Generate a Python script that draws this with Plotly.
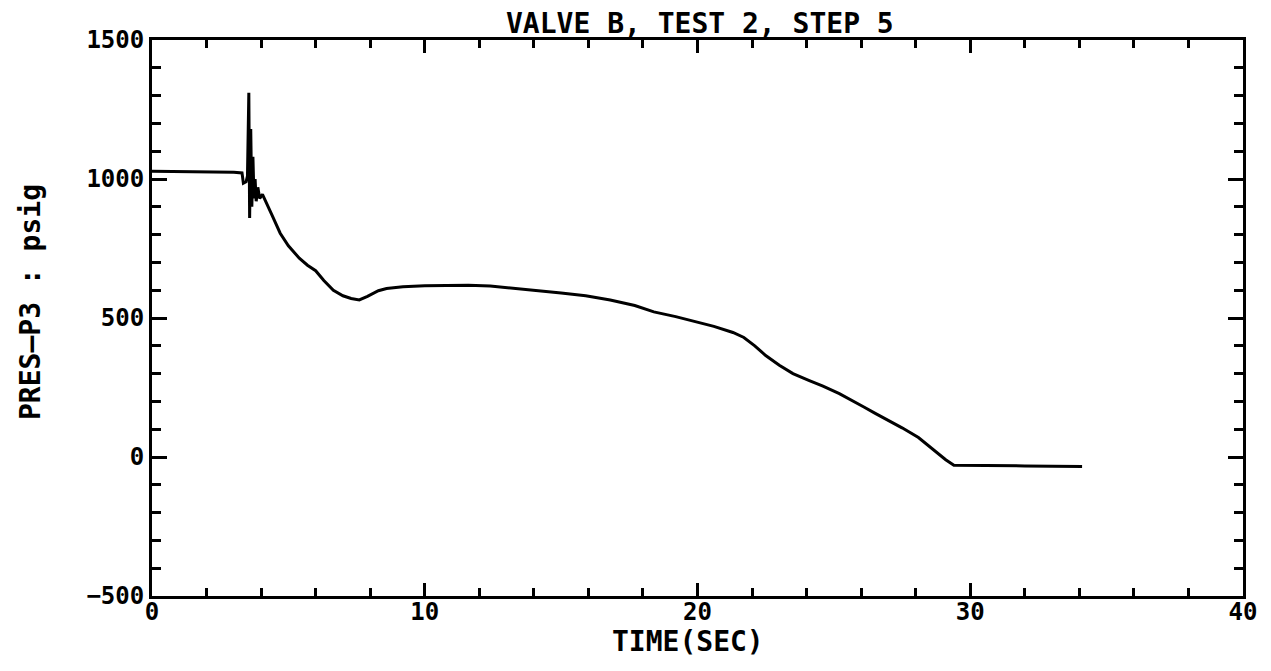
import plotly.graph_objects as go

# time (sec) and pressure P3 (psig)
time_sec = [0, 1, 2, 3, 3.3, 3.35, 3.45, 3.5, 3.55, 3.58, 3.62, 3.66, 3.7, 3.74, 3.78, 3.82,
            3.88, 3.95, 4.05, 4.2, 4.4, 4.7, 5.0, 5.4, 5.7, 6.0, 6.3, 6.65, 7.0, 7.3, 7.6, 7.9,
            8.3, 8.6, 9.2, 10.0, 10.8, 11.6, 12.4, 13.2, 14.1, 15.0, 15.9, 16.8, 17.7, 18.4,
            19.2, 19.9, 20.6, 21.3, 21.7, 22.1, 22.5, 23.0, 23.5, 24.1, 24.6, 25.2, 25.7, 26.1, 26.5,
            27.0, 27.5, 28.1, 28.7, 29.1, 29.4, 30.0, 31.0, 32.0, 33.0, 34.1]
pres_p3 = [1028, 1027, 1025, 1024, 1022, 985, 990, 1010, 1310, 860, 1180, 900, 1080, 930, 1000, 920,
           970, 930, 945, 915, 870, 805, 760, 715, 690, 670, 635, 600, 580, 570, 565, 578,
           598, 606, 612, 616, 618, 618, 615, 608, 598, 590, 580, 565, 545, 522,
           505, 488, 470, 448, 430, 400, 365, 330, 300, 275, 255, 228, 203, 180, 158,
           132, 105, 70, 22, -10, -30, -30, -31, -32, -33, -34]

x_ticks = [0, 10, 20, 30, 40]
y_ticks = [-500, 0, 500, 1000, 1500]

font = "DejaVu Sans Mono"
# the page adds an 8px body margin, so margins are shifted by that amount
L, R, T, B = 144, 36, 32, 83
PW, PH = 1271 - L - R, 671 - T - B


def px(x):
    return (x - 8 - L) / PW


def py(y):
    return 1 - (y - 8 - T) / PH


fig = go.Figure()
fig.add_trace(go.Scatter(x=time_sec, y=pres_p3, mode="lines",
                         line=dict(color="black", width=3), showlegend=False))

fig.update_layout(
    width=1271, height=671,
    paper_bgcolor="white", plot_bgcolor="white",
    margin=dict(l=L, r=R, t=T, b=B, autoexpand=False),
    font=dict(family=font, color="black"),
    annotations=[
        dict(text="VALVE B, TEST 2, STEP 5", xref="paper", yref="paper", x=px(700),
             y=py(24), xanchor="center", yanchor="middle", showarrow=False,
             font=dict(family=font, size=28, color="black", weight="bold")),
        dict(text="TIME(SEC)", xref="paper", yref="paper", x=px(688),
             y=py(641), xanchor="center", yanchor="middle", showarrow=False,
             font=dict(family=font, size=28, color="black", weight="bold")),
        dict(text="PRES\u2014P3 : psig", xref="paper", yref="paper", x=px(30),
             y=py(302), xanchor="center", yanchor="middle", textangle=-90, showarrow=False,
             font=dict(family=font, size=28, color="black", weight="bold")),
    ],
)

fig.update_xaxes(range=[0, 40], tickvals=x_ticks, ticks="inside", ticklen=13, tickwidth=3,
                 tickcolor="black", minor=dict(dtick=2, ticks="inside", ticklen=8, tickwidth=3,
                                               tickcolor="black"),
                 showline=True, linewidth=3, linecolor="black", mirror="ticks",
                 showgrid=False, zeroline=False, automargin=False, ticklabelstandoff=-8,
                 tickfont=dict(family=font, size=24, color="black", weight="bold"))
fig.update_yaxes(range=[-500, 1500], tickvals=y_ticks, ticks="inside", ticklen=15, tickwidth=3,
                 tickcolor="black", minor=dict(dtick=100, ticks="inside", ticklen=9, tickwidth=3,
                                               tickcolor="black"),
                 showline=True, linewidth=3, linecolor="black", mirror="ticks",
                 showgrid=False, zeroline=False, automargin=False,
                 tickfont=dict(family=font, size=24, color="black", weight="bold"))

fig.write_html("out.html")
